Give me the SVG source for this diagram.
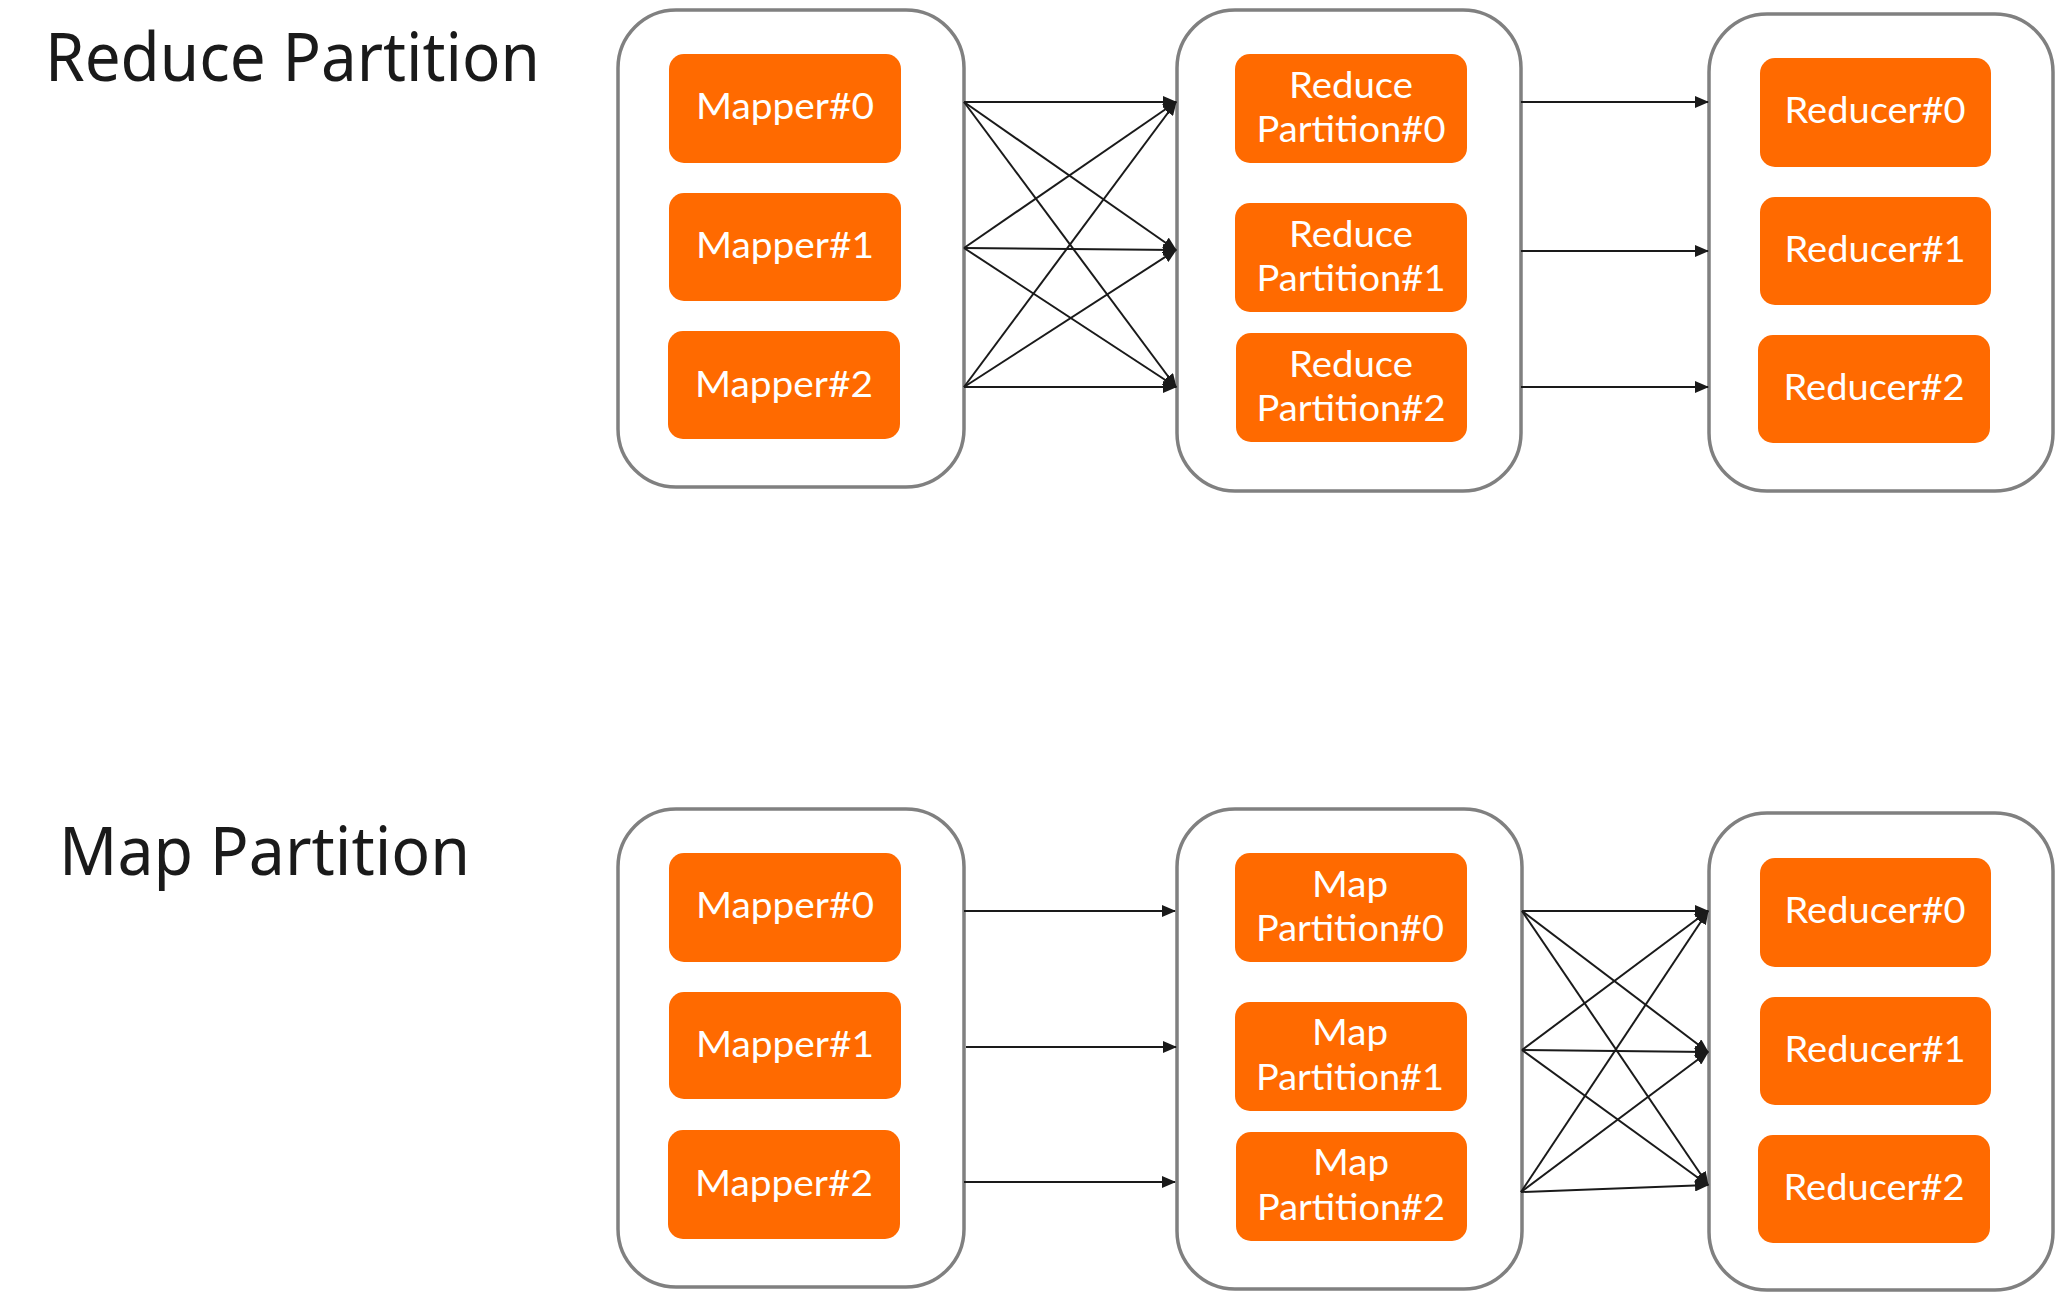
<svg xmlns="http://www.w3.org/2000/svg" width="2056" height="1292" viewBox="0 0 2056 1292">
  <defs>
    <marker id="arr" markerUnits="userSpaceOnUse" markerWidth="14" markerHeight="12" viewBox="0 0 14 12" refX="13" refY="6" orient="auto">
      <path d="M0,0 L14,6 L0,12 Z" fill="#1a1a1a"/>
    </marker>
    <style>
      .title { font-family: "Noto Sans", "Open Sans", sans-serif; font-size: 68px; fill: #1a1a1a; }
      .group { fill: #ffffff; stroke: #808080; stroke-width: 3.5; }
      .node { fill: #ff6a00; }
      .lbl { font-family: Lato, "Noto Sans", sans-serif; font-size: 36px; fill: #ffffff; text-anchor: middle; }
      .edge { stroke: #1a1a1a; stroke-width: 2; fill: none; marker-end: url(#arr); }
    </style>
  </defs>
  <rect width="2056" height="1292" fill="#ffffff"/>

  <text class="title" x="45" y="81" textLength="495" lengthAdjust="spacingAndGlyphs">Reduce Partition</text>
  <text class="title" x="59" y="875" textLength="411" lengthAdjust="spacingAndGlyphs">Map Partition</text>

  <!-- Top section containers -->
  <g id="top-mappers">
    <rect class="group" x="618" y="10" width="346" height="477" rx="58"/>
  </g>
  <g id="top-partitions">
    <rect class="group" x="1177" y="10" width="344" height="481" rx="58"/>
  </g>
  <g id="top-reducers">
    <rect class="group" x="1709" y="14" width="344" height="477" rx="58"/>
  </g>

  <g id="t-mapper0"><rect class="node" x="669" y="54" width="232" height="109" rx="15"/><text class="lbl" x="785" y="119" textLength="178" lengthAdjust="spacingAndGlyphs">Mapper#0</text></g>
  <g id="t-mapper1"><rect class="node" x="669" y="193" width="232" height="108" rx="15"/><text class="lbl" x="785" y="258" textLength="178" lengthAdjust="spacingAndGlyphs">Mapper#1</text></g>
  <g id="t-mapper2"><rect class="node" x="668" y="331" width="232" height="108" rx="15"/><text class="lbl" x="784" y="397" textLength="178" lengthAdjust="spacingAndGlyphs">Mapper#2</text></g>

  <g id="t-rp0"><rect class="node" x="1235" y="54" width="232" height="109" rx="15"/><text class="lbl"><tspan x="1351" y="98" textLength="124" lengthAdjust="spacingAndGlyphs">Reduce</tspan><tspan x="1351" y="142" textLength="189" lengthAdjust="spacingAndGlyphs">Partition#0</tspan></text></g>
  <g id="t-rp1"><rect class="node" x="1235" y="203" width="232" height="109" rx="15"/><text class="lbl"><tspan x="1351" y="247" textLength="124" lengthAdjust="spacingAndGlyphs">Reduce</tspan><tspan x="1351" y="291" textLength="189" lengthAdjust="spacingAndGlyphs">Partition#1</tspan></text></g>
  <g id="t-rp2"><rect class="node" x="1236" y="333" width="231" height="109" rx="15"/><text class="lbl"><tspan x="1351" y="377" textLength="124" lengthAdjust="spacingAndGlyphs">Reduce</tspan><tspan x="1351" y="421" textLength="189" lengthAdjust="spacingAndGlyphs">Partition#2</tspan></text></g>

  <g id="t-reducer0"><rect class="node" x="1760" y="58" width="231" height="109" rx="15"/><text class="lbl" x="1875" y="123" textLength="181" lengthAdjust="spacingAndGlyphs">Reducer#0</text></g>
  <g id="t-reducer1"><rect class="node" x="1760" y="197" width="231" height="108" rx="15"/><text class="lbl" x="1875" y="262" textLength="181" lengthAdjust="spacingAndGlyphs">Reducer#1</text></g>
  <g id="t-reducer2"><rect class="node" x="1758" y="335" width="232" height="108" rx="15"/><text class="lbl" x="1874" y="400" textLength="181" lengthAdjust="spacingAndGlyphs">Reducer#2</text></g>

  <!-- Bottom section containers -->
  <g id="bottom-mappers">
    <rect class="group" x="618" y="809" width="346" height="478" rx="58"/>
  </g>
  <g id="bottom-partitions">
    <rect class="group" x="1177" y="809" width="345" height="480" rx="58"/>
  </g>
  <g id="bottom-reducers">
    <rect class="group" x="1709" y="813" width="344" height="477" rx="58"/>
  </g>

  <g id="b-mapper0"><rect class="node" x="669" y="853" width="232" height="109" rx="15"/><text class="lbl" x="785" y="918" textLength="178" lengthAdjust="spacingAndGlyphs">Mapper#0</text></g>
  <g id="b-mapper1"><rect class="node" x="669" y="992" width="232" height="107" rx="15"/><text class="lbl" x="785" y="1057" textLength="178" lengthAdjust="spacingAndGlyphs">Mapper#1</text></g>
  <g id="b-mapper2"><rect class="node" x="668" y="1130" width="232" height="109" rx="15"/><text class="lbl" x="784" y="1196" textLength="178" lengthAdjust="spacingAndGlyphs">Mapper#2</text></g>

  <g id="b-mp0"><rect class="node" x="1235" y="853" width="232" height="109" rx="15"/><text class="lbl"><tspan x="1350" y="897" textLength="76" lengthAdjust="spacingAndGlyphs">Map</tspan><tspan x="1350" y="941" textLength="188" lengthAdjust="spacingAndGlyphs">Partition#0</tspan></text></g>
  <g id="b-mp1"><rect class="node" x="1235" y="1002" width="232" height="109" rx="15"/><text class="lbl"><tspan x="1350" y="1045" textLength="76" lengthAdjust="spacingAndGlyphs">Map</tspan><tspan x="1350" y="1090" textLength="188" lengthAdjust="spacingAndGlyphs">Partition#1</tspan></text></g>
  <g id="b-mp2"><rect class="node" x="1236" y="1132" width="231" height="109" rx="15"/><text class="lbl"><tspan x="1351" y="1175" textLength="76" lengthAdjust="spacingAndGlyphs">Map</tspan><tspan x="1351" y="1220" textLength="188" lengthAdjust="spacingAndGlyphs">Partition#2</tspan></text></g>

  <g id="b-reducer0"><rect class="node" x="1760" y="858" width="231" height="109" rx="15"/><text class="lbl" x="1875" y="923" textLength="181" lengthAdjust="spacingAndGlyphs">Reducer#0</text></g>
  <g id="b-reducer1"><rect class="node" x="1760" y="997" width="231" height="108" rx="15"/><text class="lbl" x="1875" y="1062" textLength="181" lengthAdjust="spacingAndGlyphs">Reducer#1</text></g>
  <g id="b-reducer2"><rect class="node" x="1758" y="1135" width="232" height="108" rx="15"/><text class="lbl" x="1874" y="1200" textLength="181" lengthAdjust="spacingAndGlyphs">Reducer#2</text></g>

  <!-- Connectors -->
  <g id="connectors">
    <line class="edge" x1="964" y1="102" x2="1176" y2="102"/>
    <line class="edge" x1="964" y1="102" x2="1176" y2="250"/>
    <line class="edge" x1="964" y1="102" x2="1176" y2="387"/>
    <line class="edge" x1="964" y1="248" x2="1176" y2="102"/>
    <line class="edge" x1="964" y1="248" x2="1176" y2="250"/>
    <line class="edge" x1="964" y1="248" x2="1176" y2="387"/>
    <line class="edge" x1="964" y1="387" x2="1176" y2="102"/>
    <line class="edge" x1="964" y1="387" x2="1176" y2="250"/>
    <line class="edge" x1="964" y1="387" x2="1176" y2="387"/>
    <line class="edge" x1="1521" y1="102" x2="1708" y2="102"/>
    <line class="edge" x1="1521" y1="251" x2="1708" y2="251"/>
    <line class="edge" x1="1521" y1="387" x2="1708" y2="387"/>
    <line class="edge" x1="964" y1="911" x2="1175" y2="911"/>
    <line class="edge" x1="966" y1="1047" x2="1176" y2="1047"/>
    <line class="edge" x1="964" y1="1182" x2="1175" y2="1182"/>
    <line class="edge" x1="1522" y1="911" x2="1708" y2="911"/>
    <line class="edge" x1="1522" y1="911" x2="1708" y2="1052"/>
    <line class="edge" x1="1522" y1="911" x2="1708" y2="1185"/>
    <line class="edge" x1="1522" y1="1050" x2="1708" y2="911"/>
    <line class="edge" x1="1522" y1="1050" x2="1708" y2="1052"/>
    <line class="edge" x1="1522" y1="1050" x2="1708" y2="1185"/>
    <line class="edge" x1="1521" y1="1192" x2="1708" y2="911"/>
    <line class="edge" x1="1521" y1="1192" x2="1708" y2="1052"/>
    <line class="edge" x1="1521" y1="1192" x2="1708" y2="1185"/>
  </g>
</svg>
